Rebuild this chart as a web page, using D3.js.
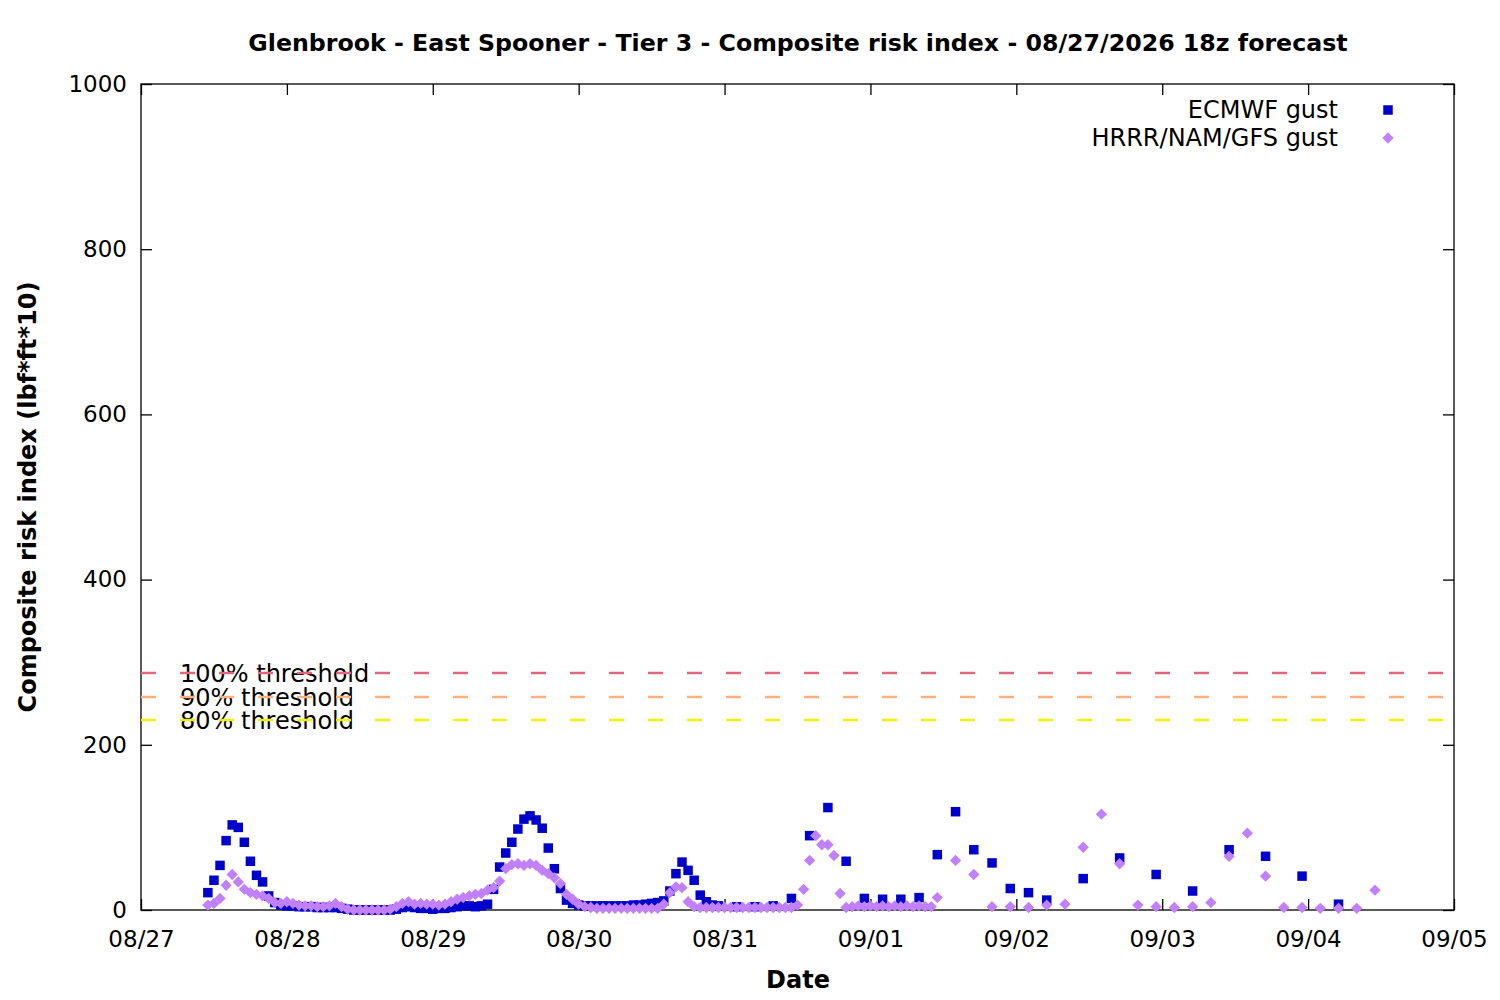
<!DOCTYPE html>
<html>
<head>
<meta charset="utf-8">
<script src="https://cdn.jsdelivr.net/npm/d3@7"></script>
<style>
  body { margin: 0; background: #fff; }
  svg text { font-family: "DejaVu Sans", sans-serif; }
</style>
</head>
<body>
<div id="chart"></div>
<script>
// hours counted from 08/27 00:00 local
var ecmwfHours = d3.range(11, 96).concat(d3.range(98, 156, 3), d3.range(161, 198, 6));
var ecmwfValues = [
  21, 36, 54, 84, 103, 100, 82, 59, 42, 34, 17, 9, 6, 5, 5, 4, 4, 4, 3, 3,
  3, 3, 2, 1, 0, 0, 0, 0, 0, 0, 0, 1, 3, 4, 3, 2, 2, 1, 2, 2,
  3, 4, 5, 5, 4, 5, 7, 25, 52, 69, 82, 98, 110, 114, 109, 99, 75, 50, 26, 12,
  8, 6, 5, 5, 5, 5, 5, 5, 5, 5, 6, 6, 7, 8, 9, 11, 23, 44, 58, 48,
  36, 18, 10, 6, 5,
  4, 4, 5, 14, 90, 124, 59, 14, 13, 13, 15, 67, 119, 73, 57, 26, 21, 12, null, 38,
  63, 43, 23, 73, 65, 41, 7
];
var hrrrHours = d3.range(11, 132).concat(d3.range(134, 204, 3));
var hrrrValues = [
  6, 8, 14, 30, 43, 34, 25, 21, 19, 17, 14, 9, 8, 10, 8, 6, 5, 5, 4, 4,
  5, 8, 4, 1, 0, 0, 0, 0, 0, 0, 1, 4, 8, 10, 7, 8, 7, 7, 6, 7,
  10, 13, 15, 17, 19, 20, 24, 27, 35, 50, 55, 56, 54, 56, 54, 48, 44, 39, 32, 19,
  13, 7, 4, 3, 2, 2, 2, 2, 2, 2, 2, 2, 2, 2, 2, 7, 21, 28, 27, 10,
  4, 3, 3, 3, 3, 3, 3, 3, 3, 3, 3, 3, 3, 3, 3, 3, 3, 6, 25, 60,
  90, 79, 79, 66, 20, 3, 4, 5, 4, 5, 4, 5, 4, 5, 4, 5, 4, 5, 4, 4,
  15,
  60, 43, 4, 4, 3, 6, 7, 76, 116, 56, 6, 4, 3, 4, 9, 65, 93, 41, 3, 3,
  2, 2, 2, 24
];
var thresholdNames = ["100% threshold", "90% threshold", "80% threshold"];
var thresholdValues = [287, 258, 230];
var thresholdColors = ["#e0687e", "#fdb27e", "#f2f200"];
var yTicks = [0, 200, 400, 600, 800, 1000];

var width = 1500;
var height = 1000;
var margin = { top: 84, right: 46, bottom: 90, left: 141 };
var base = Date.UTC(2026, 7, 27);
var toDate = function(h) { return new Date(base + h * 3600000); };

var svg = d3.select('#chart').append('svg')
    .attr('width', width)
    .attr('height', height);

var xScale = d3.scaleUtc()
    .domain([new Date(base), new Date(Date.UTC(2026, 8, 5))])
    .range([margin.left, width - margin.right]);
var yScale = d3.scaleLinear()
    .domain([0, 1000])
    .range([height - margin.bottom, margin.top]);

var x0 = margin.left, x1 = width - margin.right;
var y0 = height - margin.bottom, y1 = margin.top;

// axes, ticks pointing inward like gnuplot
var fmt = d3.utcFormat('%m/%d');
var xAxis = d3.axisBottom(xScale).ticks(d3.utcDay.every(1)).tickFormat(fmt).tickSizeInner(-11).tickSizeOuter(0).tickPadding(21);
var xAxisTop = d3.axisTop(xScale).ticks(d3.utcDay.every(1)).tickFormat('').tickSizeInner(-11).tickSizeOuter(0);
var yAxis = d3.axisLeft(yScale).tickValues(yTicks).tickFormat(d3.format('d')).tickSizeInner(-11).tickSizeOuter(0).tickPadding(14);
var yAxisRight = d3.axisRight(yScale).tickValues(yTicks).tickFormat('').tickSizeInner(-11).tickSizeOuter(0);

[[xAxis, 'translate(0,' + y0 + ')'], [xAxisTop, 'translate(0,' + y1 + ')'],
 [yAxis, 'translate(' + x0 + ',0)'], [yAxisRight, 'translate(' + x1 + ',0)']].forEach(function(a) {
  var g = svg.append('g').attr('transform', a[1]).call(a[0]);
  g.select('.domain').remove();
  g.selectAll('line').attr('stroke', '#000').attr('stroke-width', 1.3);
  g.selectAll('text').attr('font-size', 23).attr('fill', '#000')
    .attr('font-family', '"DejaVu Sans", sans-serif');
});

svg.append('rect')
  .attr('x', x0).attr('y', y1)
  .attr('width', x1 - x0).attr('height', y0 - y1)
  .attr('fill', 'none').attr('stroke', '#000').attr('stroke-width', 1.3);

// threshold labels then dashed lines over them
thresholdValues.forEach(function(v, i) {
  svg.append('text')
    .attr('x', 180).attr('y', yScale(v) + 9)
    .attr('font-size', 24)
    .text(thresholdNames[i]);
  svg.append('line')
    .attr('x1', x0).attr('x2', x1 - 8)
    .attr('y1', yScale(v)).attr('y2', yScale(v))
    .attr('stroke', thresholdColors[i])
    .attr('stroke-width', 2.5)
    .attr('stroke-dasharray', '15,24');
});

var ecmwf = ecmwfHours.map(function(h, i) { return [toDate(h), ecmwfValues[i]]; })
  .filter(function(d) { return d[1] != null; });
var hrrr = hrrrHours.map(function(h, i) { return [toDate(h), hrrrValues[i]]; });

var sq = 9.5, dm = 8;
svg.append('g').selectAll('rect')
  .data(ecmwf).enter().append('rect')
  .attr('x', function(d) { return xScale(d[0]) - sq / 2; })
  .attr('y', function(d) { return yScale(d[1]) - sq / 2; })
  .attr('width', sq).attr('height', sq)
  .attr('fill', '#0000cc');

svg.append('g').selectAll('rect')
  .data(hrrr).enter().append('rect')
  .attr('x', -dm / 2).attr('y', -dm / 2)
  .attr('width', dm).attr('height', dm)
  .attr('transform', function(d) {
    return 'translate(' + xScale(d[0]) + ',' + yScale(d[1]) + ') rotate(45)';
  })
  .attr('fill', '#c080ff');

// legend
var legend = svg.append('g');
legend.append('text').attr('x', 1338).attr('y', 118).attr('text-anchor', 'end')
  .attr('font-size', 24).text('ECMWF gust');
legend.append('text').attr('x', 1338).attr('y', 146).attr('text-anchor', 'end')
  .attr('font-size', 24).text('HRRR/NAM/GFS gust');
legend.append('rect').attr('x', 1388 - sq / 2).attr('y', 110 - sq / 2)
  .attr('width', sq).attr('height', sq).attr('fill', '#0000cc');
legend.append('rect').attr('x', -dm / 2).attr('y', -dm / 2)
  .attr('width', dm).attr('height', dm)
  .attr('transform', 'translate(1388,138) rotate(45)')
  .attr('fill', '#c080ff');

// titles
svg.append('text')
  .attr('x', 798).attr('y', 51).attr('text-anchor', 'middle')
  .attr('font-size', 23.7).attr('font-weight', 'bold')
  .text('Glenbrook - East Spooner - Tier 3 - Composite risk index - 08/27/2026 18z forecast');
svg.append('text')
  .attr('x', 798).attr('y', 988).attr('text-anchor', 'middle')
  .attr('font-size', 24).attr('font-weight', 'bold')
  .text('Date');
svg.append('text')
  .attr('transform', 'translate(36,497) rotate(-90)')
  .attr('text-anchor', 'middle')
  .attr('font-size', 24).attr('font-weight', 'bold')
  .text('Composite risk index (lbf*ft*10)');
</script>
</body>
</html>
